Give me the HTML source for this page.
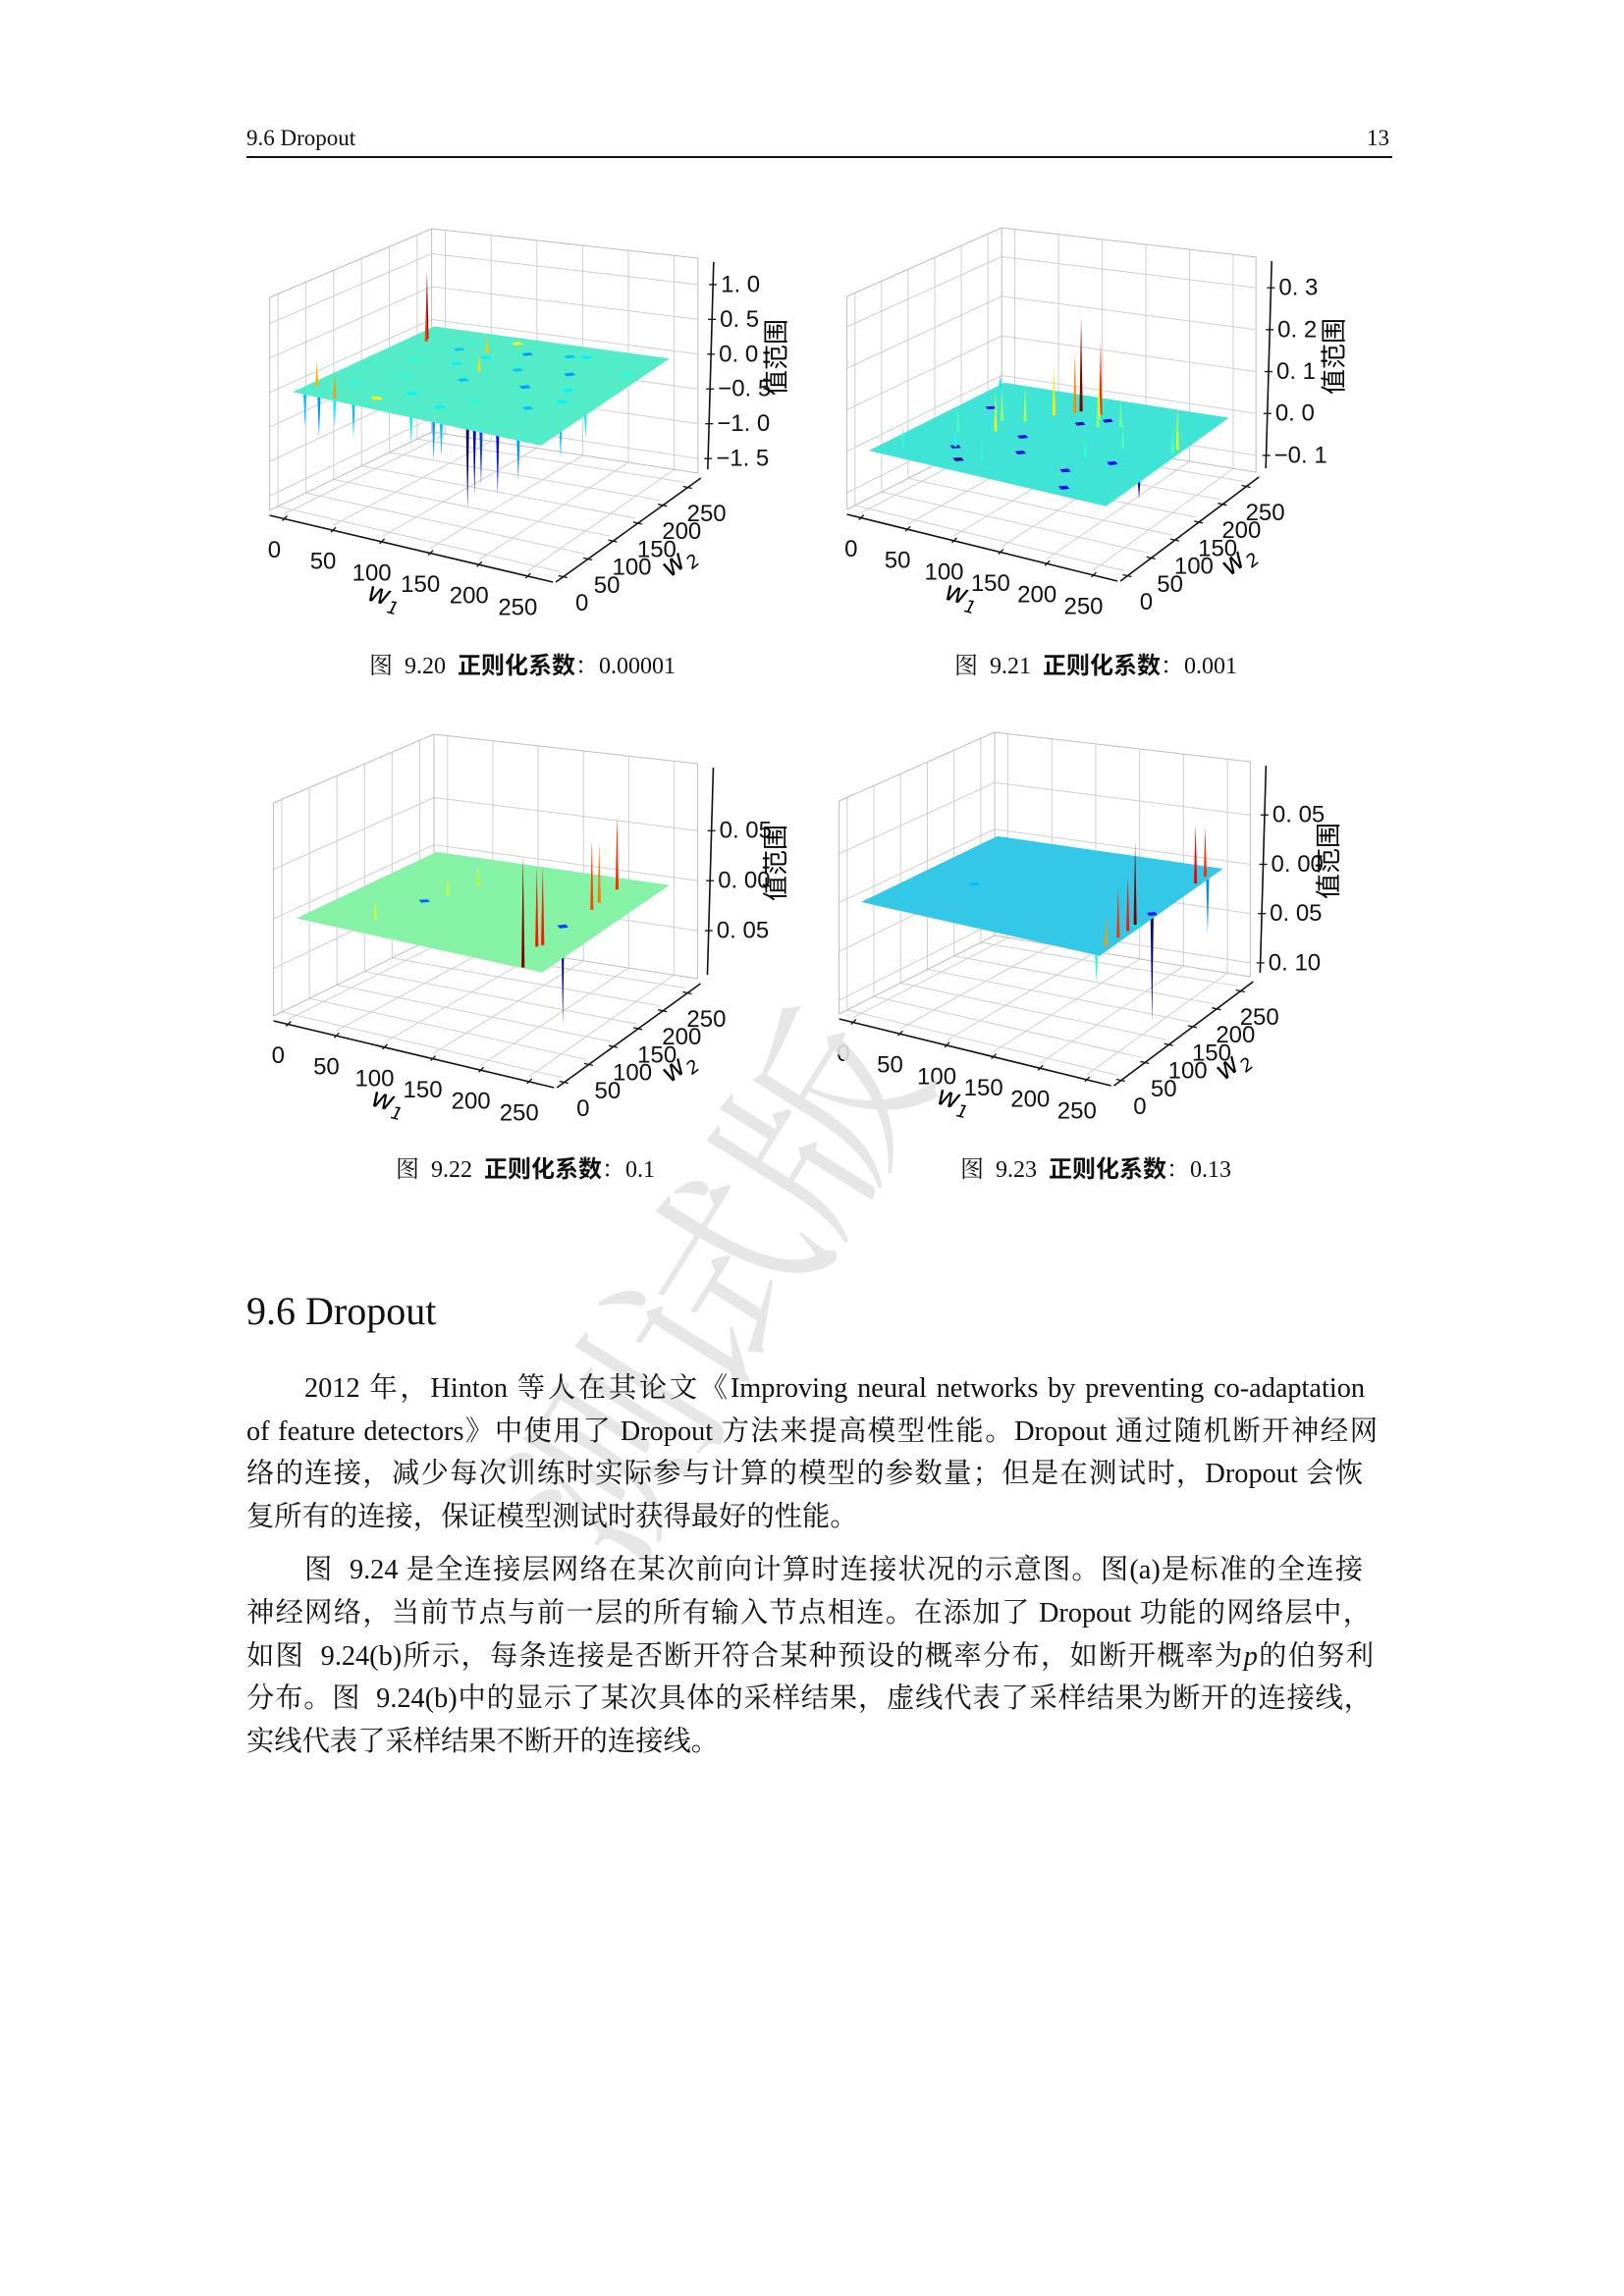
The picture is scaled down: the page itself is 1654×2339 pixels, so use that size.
<!DOCTYPE html>
<html lang="zh">
<head>
<meta charset="utf-8">
<style>
  html,body{margin:0;padding:0;background:#fff;}
  body{width:1654px;height:2339px;position:relative;overflow:hidden;font-family:"Liberation Serif","Noto Serif CJK SC",serif;color:#111;}
  .abs{position:absolute;}
  #charts{position:absolute;left:0;top:0;}
  .line{position:absolute;left:251px;width:1150px;font-size:28.3px;line-height:44px;white-space:nowrap;text-align:justify;text-align-last:justify;}
  .line.last{text-align:left;text-align-last:left;}
  .cap{position:absolute;font-size:24px;white-space:nowrap;line-height:30px;}
  .cap b{font-family:"Liberation Sans","Noto Sans CJK SC",sans-serif;font-weight:bold;}
</style>
</head>
<body>

<div class="abs" style="left:251px;top:128px;font-size:23px;">9.6 Dropout</div>
<div class="abs" style="left:1392px;top:128px;font-size:23px;">13</div>
<div class="abs" style="left:251px;top:159px;width:1167px;height:2px;background:#111;"></div>

<svg id="charts" width="1654" height="1300" xmlns="http://www.w3.org/2000/svg"></svg>

<div class="cap" style="left:376px;top:664px;">图&nbsp; 9.20&nbsp; <b>正则化系数</b>：0.00001</div>
<div class="cap" style="left:972px;top:664px;">图&nbsp; 9.21&nbsp; <b>正则化系数</b>：0.001</div>
<div class="cap" style="left:403px;top:1177px;">图&nbsp; 9.22&nbsp; <b>正则化系数</b>：0.1</div>
<div class="cap" style="left:978px;top:1177px;">图&nbsp; 9.23&nbsp; <b>正则化系数</b>：0.13</div>

<div class="abs" style="left:420px;top:1160px;font-size:200px;color:#e4e4e4;transform:rotate(-58deg);transform-origin:center;white-space:nowrap;font-family:'Noto Serif CJK SC',serif;opacity:0.9;">测试版</div>

<div class="abs" style="left:251px;top:1312px;font-size:40px;">9.6 Dropout</div>

<div>
<div class="line" style="top:1393px;left:310px;width:1080px;">2012 年，Hinton 等人在其论文《Improving neural networks by preventing co-adaptation</div>
<div class="line" style="top:1437px;width:1152px;">of feature detectors》中使用了 Dropout 方法来提高模型性能。Dropout 通过随机断开神经网</div>
<div class="line" style="top:1480px;width:1137px;">络的连接，减少每次训练时实际参与计算的模型的参数量；但是在测试时，Dropout 会恢</div>
<div class="line last" style="top:1524px;">复所有的连接，保证模型测试时获得最好的性能。</div>
</div>
<div>
<div class="line" style="top:1578px;left:310px;width:1078px;">图&nbsp; 9.24 是全连接层网络在某次前向计算时连接状况的示意图。图(a)是标准的全连接</div>
<div class="line" style="top:1622px;width:1145px;">神经网络，当前节点与前一层的所有输入节点相连。在添加了 Dropout 功能的网络层中，</div>
<div class="line" style="top:1666px;width:1148px;">如图&nbsp; 9.24(b)所示，每条连接是否断开符合某种预设的概率分布，如断开概率为<i>p</i>的伯努利</div>
<div class="line" style="top:1709px;width:1146px;">分布。图&nbsp; 9.24(b)中的显示了某次具体的采样结果，虚线代表了采样结果为断开的连接线，</div>
<div class="line last" style="top:1753px;">实线代表了采样结果不断开的连接线。</div>
</div>

<script>
// ---- data arrays (per chart) ----
const wTicks = [0, 50, 100, 150, 200, 250];
const wTickLabels = ["0", "50", "100", "150", "200", "250"];

const c1ZTicks = [1.0, 0.5, 0.0, -0.5, -1.0, -1.5];
const c1ZLabels = ["1. 0", "0. 5", "0. 0", "\u22120. 5", "\u22121. 0", "\u22121. 5"];
const c1SpikeW1 = [16, 20, 8, 40, 175, 180, 190, 205, 230, 10, 25, 40, 60, 120, 150, 245, 250, 140, 90, 110];
const c1SpikeW2 = [216, 208, 30, 6, 10, 14, 8, 12, 5, 5, 4, 6, 5, 4, 6, 60, 100, 10, 200, 150];
const c1SpikeZ  = [1.0, 0.6, 0.35, 0.4, -1.2, -1.0, -0.8, -0.9, -0.6, -0.5, -0.6, -0.4, -0.5, -0.4, -0.5, -0.5, -0.4, -0.6, 0.3, 0.25];
const c1PatchW1 = [60, 95, 125, 165, 40, 80, 140, 190, 210, 60, 110, 170, 220, 90, 150, 200, 30, 130, 240, 180, 70, 100];
const c1PatchW2 = [200, 190, 215, 225, 150, 160, 170, 180, 140, 100, 120, 130, 110, 60, 70, 80, 60, 40, 200, 230, 30, 240];
const c1PatchZ  = [-0.5, -0.4, -0.6, -0.5, -0.3, -0.4, -0.5, -0.6, -0.4, -0.3, -0.5, -0.6, -0.4, -0.4, -0.3, -0.5, -0.3, -0.4, -0.3, -0.4, 0.2, 0.2];

const c2ZTicks = [0.3, 0.2, 0.1, 0.0, -0.1];
const c2ZLabels = ["0. 3", "0. 2", "0. 1", "0. 0", "\u22120. 1"];
const c2SpikeW1 = [113, 135, 110, 95, 140, 60, 80, 70, 40, 150, 170, 250, 250, 5, 20, 200, 100, 60, 180, 250, 90];
const c2SpikeW2 = [212, 212, 205, 190, 200, 150, 160, 120, 100, 180, 190, 160, 150, 240, 30, 140, 40, 60, 100, 80, 60];
const c2SpikeZ  = [0.23, 0.18, 0.15, 0.12, 0.1, 0.08, 0.09, 0.1, 0.06, 0.08, 0.07, 0.1, 0.06, 0.03, 0.05, 0.06, 0.05, 0.04, 0.05, -0.05, -0.04];
const c2PatchW1 = [60, 100, 130, 150, 30, 180, 210, 80, 120, 200];
const c2PatchW2 = [60, 120, 180, 200, 180, 60, 100, 30, 80, 20];
const c2PatchZ  = [-0.05, -0.05, -0.06, -0.05, -0.04, -0.04, -0.04, -0.08, -0.05, -0.04];

const c3ZTicks = [0.05, 0.0, -0.05];
const c3ZLabels = ["0. 05", "0. 00", "0. 05"];
const c3SpikeW1 = [235, 221, 224, 220, 217, 215, 217, 60, 80, 90];
const c3SpikeW2 = [2, 56, 62, 167, 187, 226, 115, 40, 140, 180];
const c3SpikeZ  = [0.11, 0.08, 0.08, 0.07, 0.06, 0.075, -0.098, 0.02, 0.02, 0.02];
const c3PatchW1 = [70, 217];
const c3PatchW2 = [114, 115];
const c3PatchZ  = [-0.05, -0.06];

const c4ZTicks = [0.05, 0.0, -0.05, -0.10];
const c4ZLabels = ["0. 05", "0. 00", "0. 05", "0. 10"];
const c4SpikeW1 = [249, 250, 250, 250, 250, 250, 250, 250, 250];
const c4SpikeW2 = [87, 50, 70, 210, 230, 120, 5, 235, 25];
const c4SpikeZ  = [0.083, 0.05, 0.055, 0.06, 0.05, -0.11, -0.03, -0.06, 0.03];
const c4PatchW1 = [60, 250, 250];
const c4PatchW2 = [110, 120, 87];
const c4PatchZ  = [-0.05, -0.08, -0.04];

// ---- geometry ----
const svg = document.getElementById('charts');
const NS = 'http://www.w3.org/2000/svg';
const WMIN = -15, WMAX = 276;
const SX = 1.154, OX = 240;
const G = {FL:[270,520], FR:[520,588], BR:[648,482], BK:[413,440], h:[217,225,219,207]};

function jet(t){
  t = Math.max(0, Math.min(1, t));
  const c = v => Math.round(255*Math.max(0, Math.min(1, 1.5 - Math.abs(v))));
  return `rgb(${c(4*t-3)},${c(4*t-2)},${c(4*t-1)})`;
}
function el(tag, parent){ const e = document.createElementNS(NS, tag); parent.appendChild(e); return e; }

function makeProj(dx, dy, zmin, zmax, sx2){
  const fl = OX + (G.FL[0]-OX)*SX;
  return function(w1, w2, z){
    const u = (w1-WMIN)/(WMAX-WMIN), v = (w2-WMIN)/(WMAX-WMIN);
    const a=(1-u)*(1-v), b=u*(1-v), c=u*v, d=(1-u)*v;
    const x = a*G.FL[0]+b*G.FR[0]+c*G.BR[0]+d*G.BK[0];
    const y = a*G.FL[1]+b*G.FR[1]+c*G.BR[1]+d*G.BK[1];
    const h = a*G.h[0]+b*G.h[1]+c*G.h[2]+d*G.h[3];
    const t = (z-zmin)/(zmax-zmin);
    const xs = OX + (x-OX)*SX;
    return [fl + (xs-fl)*sx2 + dx, y+dy-t*h];
  };
}
function line(g, p, q, color, w){
  const l = el('line', g);
  l.setAttribute('x1', p[0]); l.setAttribute('y1', p[1]);
  l.setAttribute('x2', q[0]); l.setAttribute('y2', q[1]);
  l.setAttribute('stroke', color); l.setAttribute('stroke-width', w);
  return l;
}
function text(g, x, y, s, size, anchor){
  const t = el('text', g);
  t.setAttribute('x', x); t.setAttribute('y', y);
  t.setAttribute('font-size', size);
  t.setAttribute('font-family', 'Liberation Sans, DejaVu Sans, sans-serif');
  t.setAttribute('text-anchor', anchor || 'middle');
  t.setAttribute('dominant-baseline', 'central');
  t.setAttribute('fill', '#111');
  t.textContent = s;
  return t;
}

function drawChart(id, dx, dy, sx2, zmin, zmax, zTicks, zLabels, surf, sW1, sW2, sZ, pW1, pW2, pZ){
  const P = makeProj(dx, dy, zmin, zmax, sx2);
  const g = el('g', svg);
  
  
  const grid = '#cfcfcf';
  const gg = el('g', g);
  
  
  wTicks.forEach(w => {
    line(gg, P(WMIN, w, zmin), P(WMIN, w, zmax), grid, 1);
    line(gg, P(w, WMAX, zmin), P(w, WMAX, zmax), grid, 1);
    line(gg, P(w, WMIN, zmin), P(w, WMAX, zmin), grid, 1);
    line(gg, P(WMIN, w, zmin), P(WMAX, w, zmin), grid, 1);
  });
  zTicks.forEach(z => {
    line(gg, P(WMIN, WMIN, z), P(WMIN, WMAX, z), grid, 1);
    line(gg, P(WMIN, WMAX, z), P(WMAX, WMAX, z), grid, 1);
  });
  [[WMIN,WMIN],[WMIN,WMAX],[WMAX,WMAX]].forEach(c => line(gg, P(c[0],c[1],zmin), P(c[0],c[1],zmax), '#bdbdbd', 1));
  line(gg, P(WMIN,WMIN,zmax), P(WMIN,WMAX,zmax), '#bdbdbd', 1);
  line(gg, P(WMIN,WMAX,zmax), P(WMAX,WMAX,zmax), '#bdbdbd', 1);
  line(gg, P(WMIN,WMAX,zmin), P(WMAX,WMAX,zmin), '#bdbdbd', 1);
  line(gg, P(WMIN,WMIN,zmin), P(WMIN,WMAX,zmin), '#bdbdbd', 1);

  const all = sZ.concat(pZ, [0]);
  const lo = Math.min.apply(null, all), hi = Math.max.apply(null, all);
  const col = z => jet((z-lo)/(hi-lo || 1));

  function spike(i){
    const b = P(sW1[i], sW2[i], 0), tp = P(sW1[i], sW2[i], sZ[i]);
    const p = el('polygon', g);
    p.setAttribute('points', `${b[0]-1.6},${b[1]} ${tp[0]},${tp[1]} ${b[0]+1.6},${b[1]}`);
    p.setAttribute('fill', col(sZ[i]));
    
    
  }
  sZ.forEach((z, i) => { if (z < 0) spike(i); });
  const s = el('polygon', g);
  const corners = [P(0,0,0), P(256,0,0), P(256,256,0), P(0,256,0)];
  s.setAttribute('points', corners.map(c => c.join(',')).join(' '));
  s.setAttribute('fill', surf);
  
  
  pZ.forEach((z, i) => {
    const q = el('polygon', g);
    const w1 = pW1[i], w2 = pW2[i], r = 6;
    const pts = [P(w1-r,w2,0), P(w1,w2+r,0), P(w1+r,w2,0), P(w1,w2-r,0)];
    q.setAttribute('points', pts.map(c => c.join(',')).join(' '));
    q.setAttribute('fill', col(z));
    
    
  });
  sZ.forEach((z, i) => { if (z >= 0) spike(i); });

  const ax = el('g', g);
  
  
  const off = 5;
  const a0 = P(WMIN, WMIN, zmin), a1 = P(WMAX, WMIN, zmin), a2 = P(WMAX, WMAX, zmin);
  line(ax, [a0[0], a0[1]+off], [a1[0], a1[1]+off], '#111', 1.6);
  line(ax, [a1[0]+3, a1[1]+off], [a2[0]+3, a2[1]+off], '#111', 1.6);
  wTicks.forEach((w, i) => {
    const p = P(w, WMIN, zmin);
    line(ax, [p[0]-2, p[1]+off+2], [p[0]+3, p[1]+off-3], '#111', 1.3);
    const lb = text(ax, p[0]-10, p[1]+37, wTickLabels[i], 24);
    
    
    const q = P(WMAX, w, zmin);
    line(ax, [q[0]+3-5, q[1]+off-1], [q[0]+3+4, q[1]+off+1], '#111', 1.3);
    const lb2 = text(ax, q[0]+22, q[1]+32, wTickLabels[i], 24);
    
    
  });
  const z0 = P(WMAX, WMAX, zmin), z1 = P(WMAX, WMAX, zmax);
  const zx = t => (z0[0]+10) + t*((z1[0]+16)-(z0[0]+10));
  line(ax, [zx(0), z0[1]-4], [zx(1), z1[1]+4], '#111', 1.6);
  zTicks.forEach((z, i) => {
    const t = (z-zmin)/(zmax-zmin);
    const y = P(WMAX, WMAX, z)[1];
    line(ax, [zx(t)-4, y], [zx(t)+4, y], '#111', 1.3);
    const lb = text(ax, zx(t)+8, y, zLabels[i], 24, 'start');
    
    
  });
  const w1t = el('text', ax);
  w1t.setAttribute('x', a0[0]+100); w1t.setAttribute('y', a0[1]+94);
  w1t.setAttribute('font-size', 28); w1t.setAttribute('font-style', 'italic');
  w1t.setAttribute('font-family', 'DejaVu Sans, sans-serif');
  w1t.setAttribute('transform', `rotate(15 ${a0[0]+110} ${a0[1]+85})`);
  w1t.innerHTML = 'w<tspan font-size="18" dy="7">1</tspan>';
  
  
  const w2t = el('text', ax);
  w2t.setAttribute('x', a0[0]+398*sx2); w2t.setAttribute('y', a0[1]+64);
  w2t.setAttribute('font-size', 28); w2t.setAttribute('font-style', 'italic');
  w2t.setAttribute('font-family', 'DejaVu Sans, sans-serif');
  w2t.setAttribute('transform', `rotate(-38 ${a0[0]+410*sx2} ${a0[1]+52})`);
  w2t.innerHTML = 'w<tspan font-size="18" dy="7">2</tspan>';
  
  
  const zt = el('text', ax);
  const zlx = z0[0]+78, zly = z0[1]-118;
  zt.setAttribute('x', zlx); zt.setAttribute('y', zly);
  zt.setAttribute('font-size', 26);
  zt.setAttribute('text-anchor', 'middle');
  zt.setAttribute('dominant-baseline', 'central');
  zt.setAttribute('font-family', 'Noto Sans CJK SC, sans-serif');
  zt.setAttribute('transform', `rotate(-90 ${zlx} ${zly})`);
  zt.textContent = '值范围';
  
  
}

drawChart('chart-fig-9-20', 0, 0, 1, -1.71, 1.38, c1ZTicks, c1ZLabels, '#52ecc8',
  c1SpikeW1, c1SpikeW2, c1SpikeZ, c1PatchW1, c1PatchW2, c1PatchZ);
drawChart('chart-fig-9-21', 588, -1, 0.955, -0.14, 0.373, c2ZTicks, c2ZLabels, '#40e4d6',
  c2SpikeW1, c2SpikeW2, c2SpikeZ, c2PatchW1, c2PatchW2, c2PatchZ);
drawChart('chart-fig-9-22', 4, 515, 0.99, -0.098, 0.117, c3ZTicks, c3ZLabels, '#86f2a6',
  c3SpikeW1, c3SpikeW2, c3SpikeZ, c3PatchW1, c3PatchW2, c3PatchZ);
drawChart('chart-fig-9-23', 580, 513, 0.96, -0.114, 0.104, c4ZTicks, c4ZLabels, '#33c8e8',
  c4SpikeW1, c4SpikeW2, c4SpikeZ, c4PatchW1, c4PatchW2, c4PatchZ);
</script>
</body>
</html>
